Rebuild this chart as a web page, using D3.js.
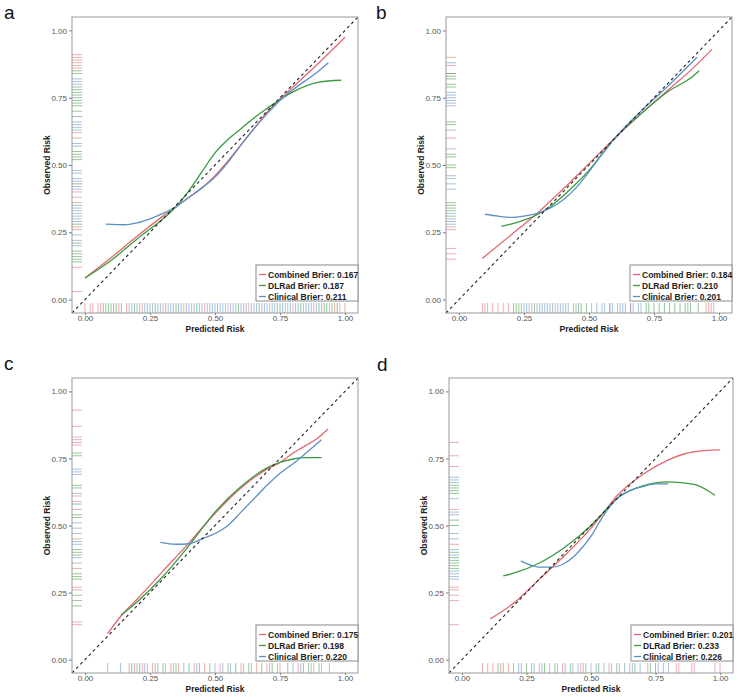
<!DOCTYPE html>
<html>
<head>
<meta charset="utf-8">
<script src="https://d3js.org/d3.v7.min.js"></script>
<style>
  body { margin: 0; background: #fff; font-family: "Liberation Sans", Arial, sans-serif; }
  .tick text { font-size: 8px; fill: #555; }
  .tick line { stroke: #777; }
  .axis-title { font-size: 8.5px; font-weight: bold; fill: #222; }
  .legend text { font-size: 8.5px; font-weight: bold; fill: #222; }
  .panel-letter { font-size: 19px; fill: #111; }
</style>
</head>
<body>
<svg id="chart" width="739" height="697"></svg>
<script>
// ---- data ----
var models = ["Combined", "DLRad", "Clinical"];
var colors = ["#E2696F", "#3A9A3F", "#5B8FC6"];
var ticks = [0, 0.25, 0.5, 0.75, 1];

var brierA = [0.167, 0.187, 0.211];
var brierB = [0.184, 0.210, 0.201];
var brierC = [0.175, 0.198, 0.220];
var brierD = [0.201, 0.233, 0.226];

// calibration curves: [predicted, observed]
var calA = [
  [[0,0.08],[0.1,0.155],[0.2,0.235],[0.3,0.31],[0.35,0.345],[0.4,0.38],[0.45,0.415],[0.5,0.46],[0.55,0.515],[0.6,0.575],[0.65,0.635],[0.7,0.695],[0.75,0.745],[0.8,0.79],[0.9,0.88],[1.0,0.975]],
  [[0,0.08],[0.1,0.145],[0.2,0.225],[0.3,0.3],[0.35,0.345],[0.4,0.405],[0.45,0.475],[0.5,0.545],[0.55,0.595],[0.6,0.635],[0.65,0.675],[0.7,0.71],[0.8,0.772],[0.9,0.808],[0.985,0.815]],
  [[0.08,0.28],[0.15,0.278],[0.2,0.285],[0.25,0.3],[0.3,0.32],[0.35,0.345],[0.4,0.38],[0.45,0.415],[0.5,0.455],[0.55,0.51],[0.6,0.575],[0.65,0.635],[0.7,0.69],[0.75,0.74],[0.8,0.78],[0.9,0.85],[0.936,0.88]]
];
var calB = [
  [[0.09,0.153],[0.2,0.24],[0.3,0.32],[0.4,0.41],[0.5,0.505],[0.6,0.6],[0.7,0.69],[0.8,0.775],[0.9,0.86],[0.973,0.93]],
  [[0.163,0.272],[0.2,0.28],[0.25,0.295],[0.3,0.315],[0.35,0.345],[0.4,0.385],[0.45,0.43],[0.5,0.48],[0.55,0.54],[0.6,0.6],[0.7,0.69],[0.8,0.77],[0.9,0.83],[0.924,0.85]],
  [[0.1,0.317],[0.15,0.31],[0.2,0.305],[0.25,0.31],[0.3,0.32],[0.35,0.34],[0.4,0.37],[0.45,0.415],[0.5,0.475],[0.55,0.54],[0.6,0.6],[0.7,0.7],[0.8,0.79],[0.915,0.9]]
];
var calC = [
  [[0.087,0.097],[0.145,0.17],[0.2,0.225],[0.3,0.33],[0.4,0.435],[0.5,0.545],[0.6,0.64],[0.7,0.71],[0.75,0.735],[0.8,0.77],[0.9,0.83],[0.935,0.86]],
  [[0.138,0.165],[0.2,0.215],[0.3,0.31],[0.4,0.425],[0.5,0.55],[0.6,0.645],[0.7,0.715],[0.75,0.735],[0.8,0.748],[0.85,0.753],[0.91,0.753]],
  [[0.29,0.437],[0.35,0.43],[0.4,0.432],[0.45,0.45],[0.5,0.47],[0.55,0.5],[0.6,0.55],[0.65,0.6],[0.7,0.65],[0.75,0.695],[0.8,0.73],[0.85,0.77],[0.91,0.82]]
];
var calD = [
  [[0.11,0.152],[0.2,0.21],[0.3,0.3],[0.4,0.39],[0.5,0.49],[0.55,0.55],[0.6,0.61],[0.7,0.69],[0.8,0.745],[0.9,0.775],[1.0,0.782]],
  [[0.16,0.312],[0.2,0.322],[0.3,0.36],[0.4,0.42],[0.5,0.5],[0.55,0.55],[0.6,0.6],[0.7,0.648],[0.8,0.663],[0.9,0.653],[0.98,0.613]],
  [[0.228,0.368],[0.3,0.345],[0.35,0.345],[0.4,0.36],[0.45,0.4],[0.5,0.46],[0.55,0.54],[0.6,0.6],[0.65,0.63],[0.7,0.645],[0.75,0.655],[0.8,0.655]]
];

// rug marks (predicted on x, observed on y)
var rugXA = [
  [0.00,0.02,0.03,0.05,0.06,0.13,0.16,0.22,0.30,0.38,0.46,0.55,0.63,0.71,0.80,0.88,0.94,0.96,0.98,1.00],
  [0.07,0.08,0.09,0.10,0.11,0.12,0.14,0.19,0.27,0.35,0.43,0.51,0.59,0.67,0.75,0.83,0.90,0.92,0.93,0.95,0.97],
  [0.17,0.18,0.20,0.21,0.23,0.24,0.25,0.26,0.28,0.29,0.31,0.32,0.33,0.34,0.36,0.37,0.39,0.40,0.41,0.42,0.44,0.45,0.47,0.48,0.49,0.50,0.52,0.53,0.54,0.56,0.57,0.58,0.60,0.61,0.62,0.64,0.65,0.66,0.68,0.69,0.70,0.72,0.73,0.74,0.76,0.77,0.78,0.79,0.81,0.82,0.84,0.85,0.86,0.87,0.89,0.91]
];
var rugYA = [
  [0.03,0.12,0.26,0.27,0.36,0.38,0.40,0.60,0.62,0.86,0.87,0.88,0.89,0.90,0.91],
  [0.14,0.15,0.16,0.17,0.18,0.21,0.28,0.43,0.52,0.53,0.54,0.55,0.68,0.70,0.72,0.73,0.74,0.75,0.76,0.77,0.78,0.79,0.84,0.85],
  [0.20,0.22,0.24,0.29,0.30,0.31,0.32,0.33,0.34,0.35,0.41,0.42,0.44,0.45,0.47,0.48,0.57,0.58,0.63,0.64,0.65,0.66,0.80,0.81,0.82]
];
var rugXB = [
  [0.09,0.10,0.11,0.13,0.15,0.17,0.19,0.28,0.37,0.58,0.66,0.95,0.96,0.97,0.98],
  [0.21,0.22,0.23,0.29,0.46,0.47,0.49,0.72,0.73,0.75,0.77,0.79,0.81,0.83,0.85,0.87,0.89,0.92],
  [0.24,0.25,0.26,0.27,0.30,0.31,0.32,0.33,0.34,0.35,0.36,0.38,0.39,0.40,0.41,0.42,0.44,0.45,0.51,0.53,0.55,0.56,0.58,0.59,0.61,0.62,0.63,0.64,0.66,0.67,0.69,0.70,0.88]
];
var rugYB = [
  [0.15,0.17,0.19,0.26,0.27,0.60,0.84,0.87,0.90],
  [0.31,0.33,0.34,0.35,0.36,0.49,0.50,0.53,0.54,0.65,0.66,0.79,0.80,0.82,0.83,0.84],
  [0.28,0.29,0.30,0.32,0.41,0.43,0.45,0.46,0.56,0.63,0.72,0.73,0.74,0.75,0.76,0.77,0.88]
];
var rugXC = [
  [0.17,0.19,0.22,0.24,0.26,0.33,0.36,0.42,0.46,0.52,0.60,0.66,0.70,0.75,0.82,0.88,0.94],
  [0.18,0.21,0.28,0.30,0.35,0.40,0.44,0.48,0.55,0.58,0.63,0.68,0.72,0.78,0.84,0.86,0.90],
  [0.087,0.137,0.20,0.23,0.27,0.31,0.34,0.38,0.43,0.50,0.53,0.56,0.61,0.64,0.71,0.74,0.80,0.83,0.87,0.91]
];
var rugYC = [
  [0.13,0.14,0.26,0.27,0.34,0.45,0.56,0.59,0.61,0.80,0.81,0.82,0.83,0.87,0.93],
  [0.20,0.22,0.24,0.30,0.31,0.32,0.39,0.40,0.41,0.53,0.54,0.58,0.64,0.65,0.76,0.77],
  [0.36,0.38,0.43,0.44,0.47,0.49,0.51,0.62,0.69,0.70,0.71]
];
var rugXD = [
  [0.08,0.10,0.12,0.15,0.18,0.30,0.39,0.46,0.57,0.65,0.72,0.83,0.84,0.89,0.90,0.98,1.00],
  [0.14,0.16,0.20,0.25,0.27,0.32,0.36,0.42,0.48,0.53,0.60,0.67,0.73,0.75],
  [0.22,0.23,0.28,0.31,0.34,0.37,0.40,0.43,0.45,0.47,0.50,0.52,0.55,0.58,0.61,0.63,0.66,0.69,0.76,0.78,0.80]
];
var rugYD = [
  [0.13,0.22,0.24,0.26,0.27,0.43,0.56,0.72,0.76,0.81],
  [0.34,0.35,0.36,0.37,0.38,0.40,0.50,0.52,0.62,0.63,0.64,0.65],
  [0.30,0.31,0.32,0.33,0.39,0.41,0.45,0.47,0.54,0.55,0.60,0.66,0.67,0.68]
];

// ---- layout ----
var panels = [
  { letter: "a", left: 72,  top: 17,  right: 358, bottom: 313, lx: 4,   ly: 19,  cal: calA, rx: rugXA, ry: rugYA, brier: brierA },
  { letter: "b", left: 446, top: 17,  right: 732, bottom: 313, lx: 376, ly: 19,  cal: calB, rx: rugXB, ry: rugYB, brier: brierB },
  { letter: "c", left: 72,  top: 378, right: 358, bottom: 673, lx: 4,   ly: 370, cal: calC, rx: rugXC, ry: rugYC, brier: brierC },
  { letter: "d", left: 449, top: 378, right: 733, bottom: 673, lx: 377, ly: 371, cal: calD, rx: rugXD, ry: rugYD, brier: brierD }
];

var svg = d3.select("#chart");
var fmt = d3.format(".2f");

panels.forEach(function (p) {
  var w = p.right - p.left, h = p.bottom - p.top;
  var x = d3.scaleLinear().domain([-0.05, 1.05]).range([0, w]);
  var y = d3.scaleLinear().domain([-0.05, 1.05]).range([h, 0]);

  svg.append("text").attr("class", "panel-letter")
    .attr("x", p.lx).attr("y", p.ly).text(p.letter);

  var g = svg.append("g").attr("transform", "translate(" + p.left + "," + p.top + ")");

  g.append("rect").attr("width", w).attr("height", h).attr("fill", "#fff");

  // axes
  var ya = g.append("g").call(d3.axisLeft(y).tickValues(ticks).tickFormat(fmt).tickSize(3).tickPadding(2));
  ya.select(".domain").remove();
  var xa = g.append("g").attr("transform", "translate(0," + h + ")")
    .call(d3.axisBottom(x).tickValues(ticks).tickFormat(fmt).tickSize(2).tickPadding(0));
  xa.select(".domain").remove();

  // rugs
  p.rx.forEach(function (vals, i) {
    g.append("g").selectAll("line").data(vals).enter().append("line")
      .attr("x1", function (d) { return x(d); }).attr("x2", function (d) { return x(d); })
      .attr("y1", h).attr("y2", h - 10)
      .attr("stroke", colors[i]).attr("stroke-width", 0.9).attr("opacity", 0.6);
  });
  p.ry.forEach(function (vals, i) {
    g.append("g").selectAll("line").data(vals).enter().append("line")
      .attr("y1", function (d) { return y(d); }).attr("y2", function (d) { return y(d); })
      .attr("x1", 0).attr("x2", 10)
      .attr("stroke", colors[i]).attr("stroke-width", 0.9).attr("opacity", 0.6);
  });

  // curves
  var line = d3.line()
    .x(function (d) { return x(d[0]); })
    .y(function (d) { return y(d[1]); })
    .curve(d3.curveMonotoneX);
  p.cal.forEach(function (pts, i) {
    g.append("path").datum(pts).attr("d", line)
      .attr("fill", "none").attr("stroke", colors[i]).attr("stroke-width", 1.3);
  });

  // reference diagonal
  g.append("line")
    .attr("x1", x(-0.05)).attr("y1", y(-0.05))
    .attr("x2", x(1.05)).attr("y2", y(1.05))
    .attr("stroke", "#222").attr("stroke-width", 1.1).attr("stroke-dasharray", "3,3");

  // border
  g.append("rect").attr("width", w).attr("height", h)
    .attr("fill", "none").attr("stroke", "#9a9a9a").attr("stroke-width", 1);

  // axis titles
  g.append("text").attr("class", "axis-title")
    .attr("x", w / 2).attr("y", h + 19).attr("text-anchor", "middle").text("Predicted Risk");
  g.append("text").attr("class", "axis-title")
    .attr("transform", "translate(-22," + (h / 2) + ") rotate(-90)")
    .attr("text-anchor", "middle").text("Observed Risk");

  // legend
  var lw = 102, lh = 36;
  var lg = g.append("g").attr("class", "legend")
    .attr("transform", "translate(" + (w - lw) + "," + (h - 12 - lh) + ")");
  lg.append("rect").attr("width", lw).attr("height", lh)
    .attr("fill", "#fff").attr("stroke", "#8a8a8a").attr("stroke-width", 1);
  models.forEach(function (m, i) {
    var cy = 9.5 + i * 11;
    lg.append("line").attr("x1", 3).attr("x2", 10).attr("y1", cy).attr("y2", cy)
      .attr("stroke", colors[i]).attr("stroke-width", 1.3);
    lg.append("text").attr("x", 12).attr("y", cy + 3)
      .text(m + " Brier: " + p.brier[i].toFixed(3));
  });
});
</script>
</body>
</html>
